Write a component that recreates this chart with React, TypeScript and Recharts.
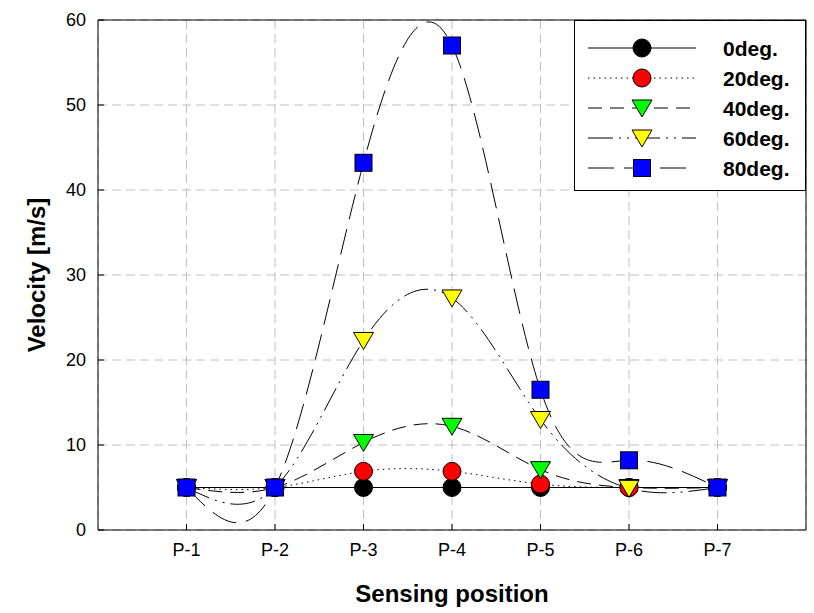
import { LineChart, Line, XAxis, YAxis, CartesianGrid, ReferenceLine } from 'recharts';

const positions = [1, 2, 3, 4, 5, 6, 7];
const deg0 = [5, 5, 5, 5, 5, 5, 5];
const deg20 = [5, 5, 6.9, 6.9, 5.4, 5, 5];
const deg40 = [5, 5, 10.3, 12.2, 7.1, 5, 5];
const deg60 = [5, 5, 22.3, 27.3, 13, 4.9, 5];
const deg80 = [5, 5, 43.2, 57, 16.5, 8.2, 5];
const yTicks = [0, 10, 20, 30, 40, 50, 60];

const FONT = '"Liberation Sans", Arial, sans-serif';

const data = positions.map((p, i) => ({
  pos: p,
  d0: deg0[i],
  d20: deg20[i],
  d40: deg40[i],
  d60: deg60[i],
  d80: deg80[i],
}));

type Shape = 'circle' | 'triangle' | 'square';

function Marker({ cx, cy, shape, fill }: { cx: number; cy: number; shape: Shape; fill: string }) {
  if (shape === 'circle') {
    return <circle cx={cx} cy={cy} r={9} fill={fill} stroke="#000" strokeWidth={1} />;
  }
  if (shape === 'triangle') {
    return (
      <polygon
        points={`${cx - 10},${cy - 8} ${cx + 10},${cy - 8} ${cx},${cy + 9}`}
        fill={fill}
        stroke="#000"
        strokeWidth={1}
      />
    );
  }
  return <rect x={cx - 8.5} y={cy - 8.5} width={17} height={17} fill={fill} stroke="#000" strokeWidth={1} />;
}

const series = [
  { key: 'd0', name: '0deg.', shape: 'circle' as Shape, fill: '#000000', dash: undefined },
  { key: 'd20', name: '20deg.', shape: 'circle' as Shape, fill: '#ff0000', dash: '1.5 4' },
  { key: 'd40', name: '40deg.', shape: 'triangle' as Shape, fill: '#00ff00', dash: '14 8' },
  { key: 'd60', name: '60deg.', shape: 'triangle' as Shape, fill: '#ffff00', dash: '25 6 2 6 2 6' },
  { key: 'd80', name: '80deg.', shape: 'square' as Shape, fill: '#0000ff', dash: '26 10' },
];

// legend drawn as an overlay so it doesn't eat into the plot area
function LegendBox() {
  return (
    <div
      style={{
        position: 'absolute',
        left: 574,
        top: 20,
        width: 232,
        height: 171,
        border: '1px solid #000',
        background: '#fff',
        boxSizing: 'border-box',
      }}
    >
      <svg width={230} height={169} style={{ display: 'block' }}>
        {series.map((s, i) => {
          const y = 27 + i * 30;
          return (
            <g key={s.key}>
              <line x1={13} x2={121} y1={y} y2={y} stroke="#000" strokeDasharray={s.dash} />
              <Marker cx={67} cy={y} shape={s.shape} fill={s.fill} />
              <text x={148} y={y + 8} fontFamily={FONT} fontWeight="bold" fontSize={21} fill="#000">
                {s.name}
              </text>
            </g>
          );
        })}
      </svg>
    </div>
  );
}

export default function App() {
  return (
    <div style={{ position: 'absolute', left: 0, top: 0, width: 814, height: 613, background: '#fff' }}>
      <LineChart
        width={814}
        height={613}
        data={data}
        margin={{ top: 20, right: 8, left: 0, bottom: 0 }}
        style={{ fontFamily: FONT }}
      >
        <CartesianGrid stroke="#c0c0c0" strokeDasharray="9 5" />
        <XAxis
          dataKey="pos"
          type="number"
          domain={[0, 8]}
          ticks={positions}
          tickFormatter={(v) => `P-${v}`}
          height={83}
          stroke="#000"
          tickSize={-6}
          tickMargin={19}
          tick={{ fill: '#000', fontSize: 18 }}
          label={{
            content: (props: any) => {
              const vb = props.viewBox;
              return (
                <text
                  x={vb.x + vb.width / 2}
                  y={602}
                  textAnchor="middle"
                  fontFamily={FONT}
                  fontWeight="bold"
                  fontSize={24}
                  fill="#000"
                >
                  Sensing position
                </text>
              );
            },
          }}
        />
        <YAxis
          type="number"
          domain={[0, 60]}
          ticks={yTicks}
          width={98}
          stroke="#000"
          tickSize={-6}
          tickMargin={18}
          tick={{ fill: '#000', fontSize: 18 }}
          label={{
            content: (props: any) => {
              const vb = props.viewBox;
              const cy = vb.y + vb.height / 2;
              return (
                <text
                  x={36}
                  y={cy}
                  textAnchor="middle"
                  dominantBaseline="central"
                  transform={`rotate(-90, 36, ${cy})`}
                  fontFamily={FONT}
                  fontWeight="bold"
                  fontSize={24}
                  fill="#000"
                >
                  Velocity [m/s]
                </text>
              );
            },
          }}
        />
        <ReferenceLine y={60} stroke="#000" />
        <ReferenceLine x={8} stroke="#000" />
        {series.map((s) => (
          <Line
            key={s.key}
            dataKey={s.key}
            name={s.name}
            type={s.key === 'd0' ? 'linear' : 'natural'}
            stroke="#000"
            strokeWidth={1}
            strokeDasharray={s.dash}
            isAnimationActive={false}
            activeDot={false}
            dot={(p: any) => <Marker key={`${s.key}-${p.index}`} cx={p.cx} cy={p.cy} shape={s.shape} fill={s.fill} />}
          />
        ))}
      </LineChart>
      <LegendBox />
    </div>
  );
}
